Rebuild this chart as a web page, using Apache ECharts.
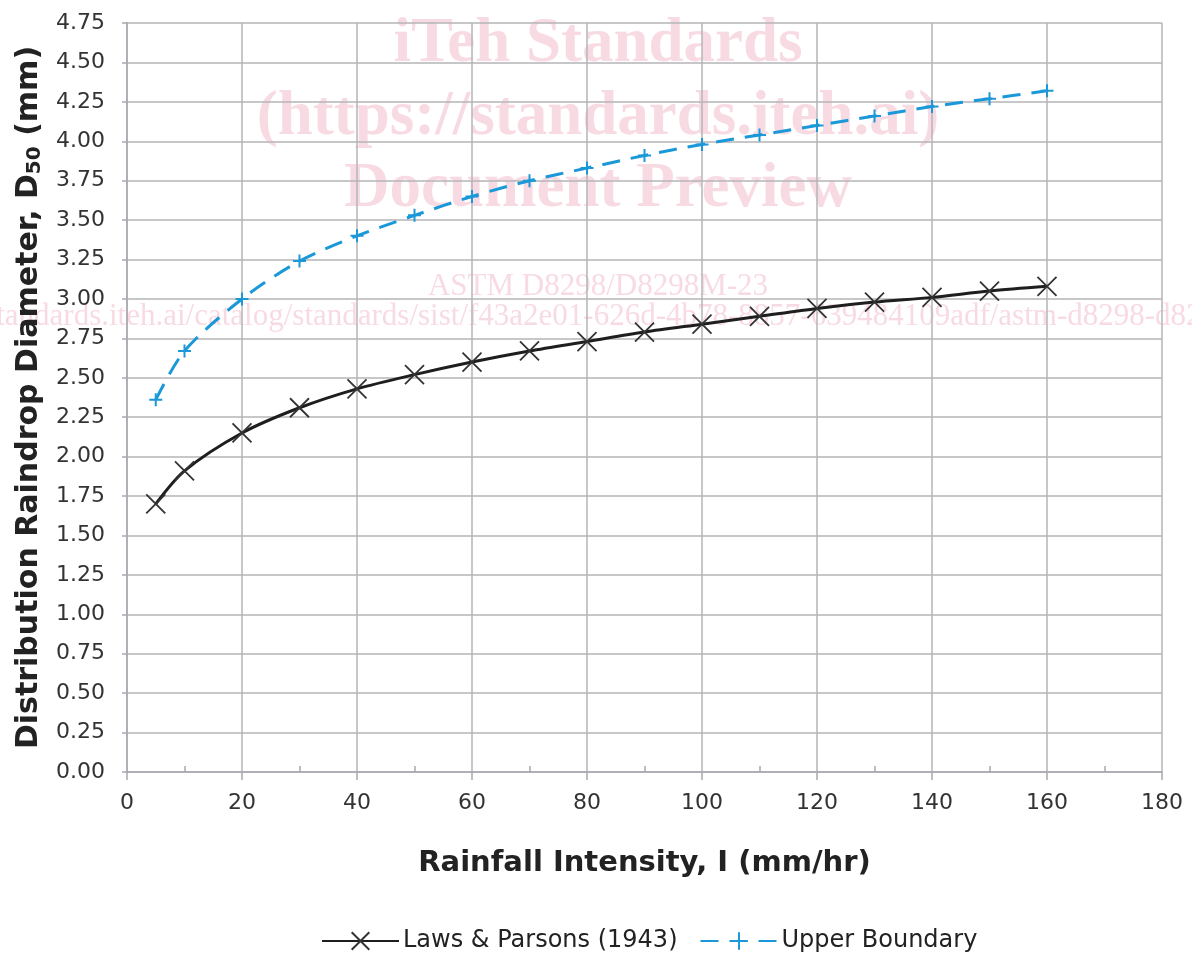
<!DOCTYPE html>
<html>
<head>
<meta charset="utf-8">
<script src="https://cdn.jsdelivr.net/npm/echarts@6/dist/echarts.min.js"></script>
<style>html,body{margin:0;padding:0;background:#fff}#c{width:1192px;height:954px}</style>
</head>
<body>
<div id="c"></div>
<script>
const intensity = [5, 10, 20, 30, 40, 50, 60, 70, 80, 90, 100, 110, 120, 130, 140, 150, 160];
const lawsParsons = [1.70, 1.91, 2.15, 2.31, 2.43, 2.52, 2.60, 2.67, 2.73, 2.79, 2.84, 2.89, 2.94, 2.98, 3.01, 3.05, 3.08];
const upperBoundary = [2.36, 2.67, 3.00, 3.24, 3.40, 3.53, 3.65, 3.75, 3.83, 3.91, 3.98, 4.04, 4.10, 4.16, 4.22, 4.27, 4.32];
const seriesNames = ['Laws & Parsons (1943)', 'Upper Boundary'];
const watermarkBig = ['iTeh Standards', '(https://standards.iteh.ai)', 'Document Preview'];
const watermarkSmall = ['ASTM D8298/D8298M-23', 'https://standards.iteh.ai/catalog/standards/sist/f43a2e01-626d-4b78-8857-639484109adf/astm-d8298-d8298m-23'];

const FONT = '"DejaVu Sans", sans-serif';
const chart = echarts.init(document.getElementById('c'));
const wmColor = 'rgba(236,150,175,0.35)';
const graphic = [];
const bigY = [45, 118, 190];
watermarkBig.forEach((t, i) => graphic.push({
  type: 'text', x: 598, y: bigY[i], z: -1, silent: true,
  style: { text: t, font: 'bold 63px "Liberation Serif", serif', fill: wmColor, align: 'center', verticalAlign: 'middle' }
}));
const smallY = [287, 317];
watermarkSmall.forEach((t, i) => graphic.push({
  type: 'text', x: 598, y: smallY[i], z: -1, silent: true,
  style: { text: t, font: '31px "Liberation Serif", serif', fill: wmColor, align: 'center', verticalAlign: 'middle' }
}));

const xMarker = 'path://M0,0L10,10M0,10L10,0';
const plusMarker = 'path://M5,0L5,10M0,5L10,5';

chart.setOption({
  animation: false,
  backgroundColor: '#fff',
  graphic: graphic,
  grid: { left: 127, right: 30, top: 23, bottom: 182 },
  legend: {
    top: 924, left: 316, itemWidth: 77, itemHeight: 22, itemGap: 22,
    textStyle: { fontFamily: FONT, fontSize: 24, color: '#222', padding: [0, 0, 0, -1] },
    data: seriesNames
  },
  xAxis: {
    type: 'value', min: 0, max: 180, interval: 20,
    name: 'Rainfall Intensity, I (mm/hr)', nameLocation: 'middle', nameGap: 77,
    nameTextStyle: { fontFamily: FONT, fontWeight: 'bold', fontSize: 29, color: '#222' },
    axisLine: { show: true, lineStyle: { color: '#a8a8b0', width: 1.5 } },
    axisTick: { show: true, length: 8, lineStyle: { color: '#a8a8b0', width: 1.5 } },
    minorTick: { show: true, splitNumber: 2, length: -6, lineStyle: { color: '#a8a8b0', width: 1.5 } },
    axisLabel: { fontFamily: FONT, fontSize: 22, color: '#333', margin: 20 },
    splitLine: { show: true, lineStyle: { color: '#b4b4b8', width: 1.5 } }
  },
  yAxis: {
    type: 'value', min: 0, max: 4.75, interval: 0.25,
    name: '{t|Distribution Raindrop Diameter, D}{s|50}{t| (mm)}',
    nameLocation: 'middle', nameGap: 80, nameRotate: 90,
    nameTextStyle: {
      rich: {
        t: { fontFamily: FONT, fontWeight: 'bold', fontSize: 30, color: '#222' },
        s: { fontFamily: FONT, fontWeight: 'bold', fontSize: 20, color: '#222', verticalAlign: 'bottom', padding: [12, 0, 0, 0] }
      }
    },
    axisLine: { show: true, lineStyle: { color: '#a8a8b0', width: 1.5 } },
    axisTick: { show: true, length: 5, lineStyle: { color: '#a8a8b0', width: 1.5 } },
    axisLabel: { fontFamily: FONT, fontSize: 22, color: '#333', margin: 22, formatter: v => v.toFixed(2) },
    splitLine: { show: true, lineStyle: { color: '#b4b4b8', width: 1.5 } }
  },
  series: [
    {
      name: seriesNames[0], type: 'line', smooth: 0.3,
      data: intensity.map((x, i) => [x, lawsParsons[i]]),
      symbol: xMarker, symbolSize: 19, showAllSymbol: true,
      lineStyle: { color: '#1e1e1e', width: 3 },
      itemStyle: { color: 'rgba(0,0,0,0)', borderColor: '#333', borderWidth: 1.8 },
      z: 3
    },
    {
      name: seriesNames[1], type: 'line', smooth: 0.3,
      data: intensity.map((x, i) => [x, upperBoundary[i]]),
      symbol: plusMarker, symbolSize: 13, showAllSymbol: true,
      lineStyle: { color: '#1b98d8', width: 3, type: [18, 11] },
      itemStyle: { color: 'rgba(0,0,0,0)', borderColor: '#1b98d8', borderWidth: 2 },
      z: 3
    }
  ]
});
</script>
</body>
</html>
